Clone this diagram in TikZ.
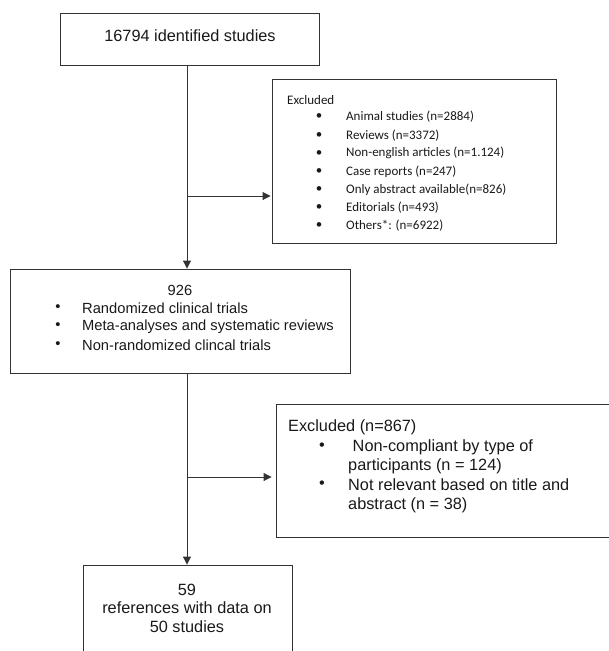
\documentclass[tikz,border=0pt]{standalone}
\usepackage{fontspec}
\setmainfont{Liberation Sans}
\newfontfamily\calibri{Carlito}
\usetikzlibrary{arrows.meta,positioning}
\tikzset{
  box/.style={draw=black!80, line width=0.9pt, inner sep=0pt},
  link/.style={draw=black!80, line width=0.9pt},
  arr/.style={link, -{Triangle[length=8pt,width=8pt]}},
  big/.style={font=\fontsize{16.3}{18.5}\selectfont, inner sep=0pt, text=black!90},
  mid/.style={font=\fontsize{14.7}{18.5}\selectfont, inner sep=0pt, text=black!90},
  small/.style={font=\calibri\fontsize{13}{18}\selectfont, inner sep=0pt, text=black!90}
}
\begin{document}
\begin{tikzpicture}[x=1pt,y=-1pt]
          \clip (0,0) rectangle (609,651);
          \useasboundingbox (0,0) rectangle (609,651);
          % boxes
          \node[box, minimum width=259pt, minimum height=52pt] (ident) at (189.5,39) {};
          \node[box, minimum width=284pt, minimum height=164pt] (excla) at (414,161) {};
          \node[box, minimum width=340pt, minimum height=104pt] (trials) at (180,321) {};
          \node[box, minimum width=364pt, minimum height=133pt] (exclb) at (458,470.5) {};
          \node[box, minimum width=209pt, minimum height=110pt] (refs) at (187.5,620) {};
          % first box
          \node[big] (identtxt) at (190,36) {16794 identified studies};
          % first exclusion
          \node[small, anchor=west] (exclatitle) at (287,100) {Excluded};
          \foreach \item [count=\i from 0] in {Animal studies (n=2884), Reviews (n=3372),
              Non-english articles (n=1.124), Case reports (n=247),
              Only abstract available(n=826), Editorials (n=493), Others*: (n=6922)}
          {
            \node[small] (bulla\i) at (319,117+18.15*\i) {•};
            \node[small, anchor=west] (itema\i) at (346,117+18.15*\i) {\item};
          }
          % selected studies
          \node[mid] (count) at (180,290) {926};
          \foreach \item [count=\i from 0] in {Randomized clinical trials,
              Meta-analyses and systematic reviews, Non-randomized clincal trials}
          {
            \node[mid] (bullt\i) at (58,308+18.5*\i) {•};
            \node[mid, anchor=west] (itemt\i) at (82,308+18.5*\i) {\item};
          }
          % second exclusion
          \node[big, anchor=west] (exclbtitle) at (288,427) {Excluded (n=867)};
          \node[big] (bullb0) at (322,447) {•};
          \node[big] (bullb1) at (322,485) {•};
          \node[big, anchor=west] (itemb0) at (348,447) {\ Non-compliant by type of};
          \node[big, anchor=west] (itemb1) at (348,466) {participants (n = 124)};
          \node[big, anchor=west] (itemb2) at (348,485) {Not relevant based on title and};
          \node[big, anchor=west] (itemb3) at (348,505) {abstract (n = 38)};
          % included references
          \node[big, align=center] (refstxt) at (187,608) {59\\references with data on\\50 studies};
          % spine and branches
          \coordinate (spine) at (187,0);
          \coordinate (ja) at (187,196);
          \coordinate (jb) at (187,477);
          \draw[arr] (ident.south -| spine) -- (trials.north -| spine);
          \draw[arr] (trials.south -| spine) -- (refs.north -| spine);
          \draw[arr, shorten >=1pt] (ja) -- (ja -| excla.west);
          \draw[arr, shorten >=4pt] (jb) -- (jb -| exclb.west);
        \end{tikzpicture}
\end{document}
